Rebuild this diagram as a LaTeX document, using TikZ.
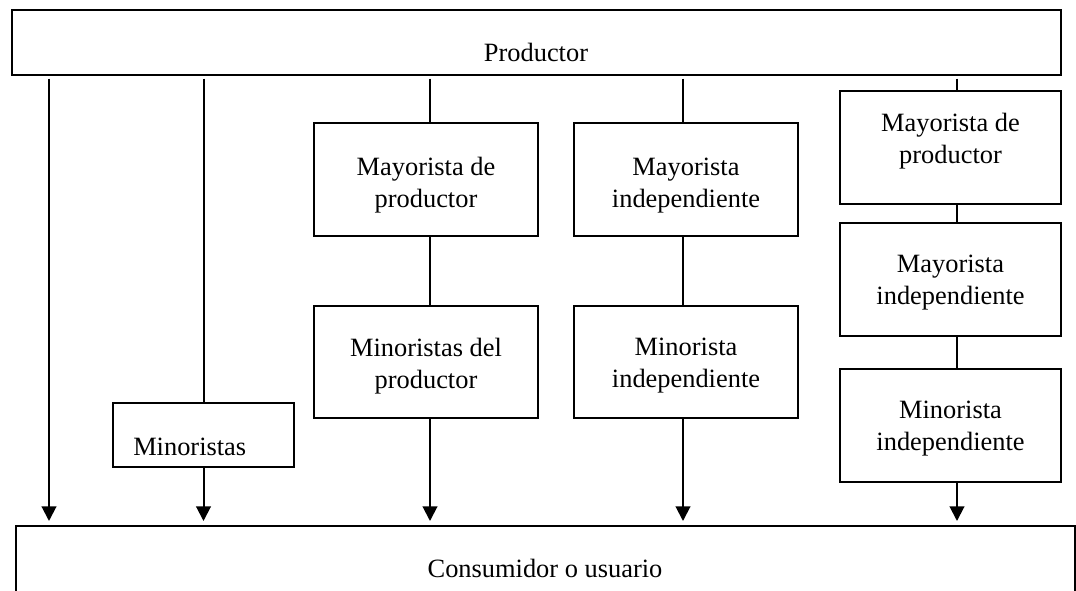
\documentclass[tikz,border=0pt]{standalone}
\usepackage{fontspec}
\setmainfont{Liberation Serif}
\usetikzlibrary{arrows.meta,fit}
\begin{document}
\begin{tikzpicture}[x=0.75pt,y=-0.75pt,
  box/.style={draw,line width=1.5pt,inner sep=0pt},
  txt/.style={font=\fontsize{19.8}{24}\selectfont,align=center,inner sep=0pt},
  link/.style={line width=1.5pt},
  arr/.style={line width=1.5pt,-{Triangle[width=11pt,length=11pt]},shorten >=3pt}]
\useasboundingbox (0,0) rectangle (1076,590);

% producer and consumer bands
\node[box,fit={(12,10)(1061,75)}] (prod) {};
\node[txt,anchor=base] (prodT) at (536,61) {Productor};
\node[box,fit={(16,526)(1075,640)}] (cons) {};
\node[txt,anchor=base] (consT) at (545,577) {Consumidor o usuario};

% channel 2
\node[box,fit={(113,403)(294,467)}] (mino) {};
\node[txt,anchor=base west] (minoT) at (133,455) {Minoristas};

% channel 3
\node[box,fit={(314,123)(538,236)}] (mayA) {};
\node[txt] (mayAT) at (426,185.3) {Mayorista de\\productor};
\node[box,fit={(314,306)(538,418)}] (minA) {};
\node[txt] (minAT) at (426,365.9) {Minoristas del\\productor};

% channel 4
\node[box,fit={(574,123)(798,236)}] (mayB) {};
\node[txt] (mayBT) at (686,185.3) {Mayorista\\independiente};
\node[box,fit={(574,306)(798,418)}] (minB) {};
\node[txt] (minBT) at (686,365.9) {Minorista\\independiente};

% channel 5
\node[box,fit={(840,91)(1061,204)}] (mayC) {};
\node[txt] (mayCT) at (950.5,141.5) {Mayorista de\\productor};
\node[box,fit={(840,223)(1061,336)}] (mayD) {};
\node[txt] (mayDT) at (950.5,282.9) {Mayorista\\independiente};
\node[box,fit={(840,369)(1061,482)}] (minC) {};
\node[txt] (minCT) at (950.5,428.9) {Minorista\\independiente};

% connector columns
\coordinate (c1) at (49,0);
\coordinate (c3) at (430,0);
\coordinate (c4) at (683,0);
\coordinate (c5) at (957,0);

% channel 1: direct
\draw[arr,shorten <=2pt] (prod.south -| c1) -- (cons.north -| c1);

% channel 2
\draw[link,shorten <=2pt] (prod.south -| mino.north) -- (mino.north);
\draw[arr] (mino.south) -- (cons.north -| mino.south);

% channel 3
\draw[link,shorten <=2pt] (prod.south -| c3) -- (mayA.north -| c3);
\draw[link] (mayA.south -| c3) -- (minA.north -| c3);
\draw[arr] (minA.south -| c3) -- (cons.north -| c3);

% channel 4
\draw[link,shorten <=2pt] (prod.south -| c4) -- (mayB.north -| c4);
\draw[link] (mayB.south -| c4) -- (minB.north -| c4);
\draw[arr] (minB.south -| c4) -- (cons.north -| c4);

% channel 5
\draw[link,shorten <=2pt] (prod.south -| c5) -- (mayC.north -| c5);
\draw[link] (mayC.south -| c5) -- (mayD.north -| c5);
\draw[link] (mayD.south -| c5) -- (minC.north -| c5);
\draw[arr] (minC.south -| c5) -- (cons.north -| c5);
\end{tikzpicture}
\end{document}
